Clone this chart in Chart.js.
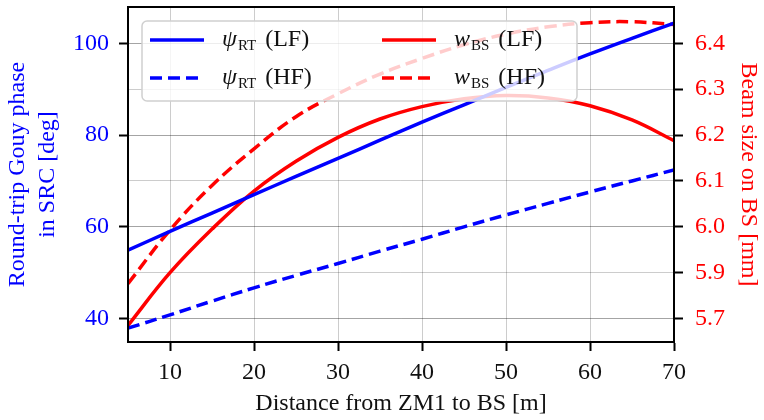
<!DOCTYPE html>
<html>
<head>
<meta charset="utf-8">
<script src="https://cdn.jsdelivr.net/npm/chart.js@4.4.0/dist/chart.umd.min.js"></script>
<style>
  html, body { margin: 0; padding: 0; background: #fff; }
  #wrap { width: 764px; height: 420px; }
</style>
</head>
<body>
<div id="wrap"><canvas id="gouyChart"></canvas></div>
<script>
// distance from ZM1 to BS [m]
const distance = [5, 10, 15, 20, 25, 30, 35, 40, 45, 50, 55, 60, 65, 70];
// round-trip Gouy phase [deg]
const psiLF = [54.9, 59.0, 63.0, 67.0, 71.0, 74.9, 78.9, 82.8, 86.6, 90.4, 94.1, 97.7, 101.1, 104.4];
const psiHF = [37.9, 40.8, 43.8, 46.7, 49.4, 52.0, 54.7, 57.3, 60.0, 62.6, 65.1, 67.6, 70.0, 72.4];
// beam size on BS [mm]
const wLF = [5.785, 5.90, 5.995, 6.078, 6.143, 6.195, 6.235, 6.262, 6.279, 6.286, 6.281, 6.264, 6.233, 6.188];
const wHF = [5.876, 5.993, 6.09, 6.17, 6.24, 6.29, 6.333, 6.367, 6.397, 6.42, 6.436, 6.445, 6.447, 6.441];

const xTicks = [10, 20, 30, 40, 50, 60, 70];
const leftTicks = [40, 60, 80, 100];
const rightTicks = [5.8, 5.9, 6.0, 6.1, 6.2, 6.3, 6.4];
const rightTickLabels = ['5.7', '5.9', '6.0', '6.1', '6.2', '6.3', '6.4'];

const FONT = 'Liberation Serif';
const pts = (ys) => distance.map((x, i) => ({ x: x, y: ys[i] }));

const frame = {
  id: 'frame',
  afterDatasetsDraw(chart) {
    const { ctx, chartArea: a } = chart;
    ctx.save();
    ctx.strokeStyle = '#000';
    ctx.lineWidth = 2;
    ctx.strokeRect(a.left, a.top, a.right - a.left, a.bottom - a.top);
    ctx.restore();
  }
};

const insideLegend = {
  id: 'insideLegend',
  afterDatasetsDraw(chart) {
    const ctx = chart.ctx;
    ctx.save();
    ctx.beginPath();
    ctx.roundRect(142, 21, 435, 80, 5);
    ctx.fillStyle = 'rgba(255,255,255,0.8)';
    ctx.fill();
    ctx.strokeStyle = '#d0d0d0';
    ctx.lineWidth = 1.5;
    ctx.stroke();

    const cols = [150, 382];
    const rows = [40, 78];
    chart.data.datasets.forEach((ds, i) => {
      const x = cols[Math.floor(i / 2)];
      const y = rows[i % 2];
      ctx.beginPath();
      ctx.strokeStyle = ds.borderColor;
      ctx.lineWidth = ds.borderWidth;
      ctx.setLineDash(ds.borderDash || []);
      ctx.moveTo(x, y);
      ctx.lineTo(x + 54, y);
      ctx.stroke();
      ctx.setLineDash([]);

      ctx.fillStyle = '#111';
      ctx.textBaseline = 'middle';
      let tx = x + 72;
      ctx.font = 'italic 24px ' + FONT;
      ctx.fillText(ds.sym, tx, y);
      tx += ctx.measureText(ds.sym).width + 1;
      ctx.font = '15px ' + FONT;
      ctx.fillText(ds.sub, tx, y + 6);
      tx += ctx.measureText(ds.sub).width;
      ctx.font = '24px ' + FONT;
      ctx.fillText(' ' + ds.tag, tx + 3, y);
    });
    ctx.restore();
  }
};

new Chart(document.getElementById('gouyChart'), {
  type: 'line',
  data: {
    datasets: [
      { sym: 'ψ', sub: 'RT', tag: '(LF)', data: pts(psiLF), yAxisID: 'y',
        borderColor: '#0000ff', borderWidth: 3.5 },
      { sym: 'ψ', sub: 'RT', tag: '(HF)', data: pts(psiHF), yAxisID: 'y',
        borderColor: '#0000ff', borderWidth: 3.5, borderDash: [12, 6] },
      { sym: 'w', sub: 'BS', tag: '(LF)', data: pts(wLF), yAxisID: 'y1',
        borderColor: '#ff0000', borderWidth: 3.5 },
      { sym: 'w', sub: 'BS', tag: '(HF)', data: pts(wHF), yAxisID: 'y1',
        borderColor: '#ff0000', borderWidth: 3.5, borderDash: [12, 6] }
    ]
  },
  options: {
    responsive: true,
    maintainAspectRatio: false,
    animation: false,
    layout: { padding: { top: 7, left: 0, right: 0, bottom: 0 } },
    elements: {
      point: { radius: 0 },
      line: { tension: 0.4, fill: false }
    },
    plugins: { legend: { display: false }, tooltip: { enabled: false } },
    scales: {
      x: {
        type: 'linear',
        min: 5,
        max: 70,
        afterBuildTicks: (s) => { s.ticks = xTicks.map(v => ({ value: v })); },
        afterFit: (s) => { s.height = 78; s.paddingLeft = 0; s.paddingRight = 0; },
        grid: { color: 'rgba(0,0,0,0.2)', lineWidth: 1, tickColor: '#000', tickWidth: 2, tickLength: 9 },
        border: { color: '#000', width: 2 },
        ticks: { color: '#111', padding: 7, font: { family: FONT, size: 24 } },
        title: {
          display: true, text: 'Distance from ZM1 to BS [m]', color: '#111',
          font: { family: FONT, size: 24, lineHeight: 1.2 }, padding: { top: 0, bottom: 2 }
        }
      },
      y: {
        position: 'left',
        min: 34.89,
        max: 107.92,
        afterBuildTicks: (s) => { s.ticks = leftTicks.map(v => ({ value: v })); },
        afterFit: (s) => { s.width = 128; s.paddingTop = 0; s.paddingBottom = 0; },
        grid: { color: 'rgba(0,0,0,0.2)', lineWidth: 1, tickColor: '#000', tickWidth: 2, tickLength: 9 },
        border: { color: '#000', width: 2 },
        ticks: { color: '#0000ff', padding: 10, font: { family: FONT, size: 24 } },
        title: {
          display: true, text: ['Round-trip Gouy phase', 'in SRC [deg]'], color: '#0000ff',
          font: { family: FONT, size: 24, lineHeight: 1.25 }, padding: { top: 3, bottom: 0 }
        }
      },
      y1: {
        position: 'right',
        min: 5.7489,
        max: 6.4792,
        afterBuildTicks: (s) => { s.ticks = rightTicks.map(v => ({ value: v })); },
        afterFit: (s) => { s.width = 90; s.paddingTop = 0; s.paddingBottom = 0; },
        grid: { color: 'rgba(0,0,0,0.2)', lineWidth: 1, tickColor: '#000', tickWidth: 2, tickLength: 9 },
        border: { color: '#000', width: 2 },
        ticks: {
          color: '#ff0000', padding: 12, font: { family: FONT, size: 24 },
          callback: (v, i) => rightTickLabels[i]
        },
        title: {
          display: true, text: 'Beam size on BS [mm]', color: '#ff0000',
          font: { family: FONT, size: 24, lineHeight: 1.2 }, padding: { top: 1, bottom: 0 }
        }
      }
    }
  },
  plugins: [frame, insideLegend]
});
</script>
</body>
</html>
